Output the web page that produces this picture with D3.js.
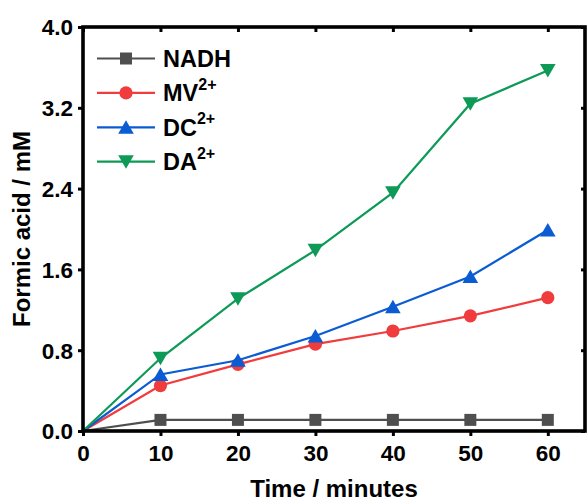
<!DOCTYPE html>
<html>
<head>
<meta charset="utf-8">
<script src="https://cdn.jsdelivr.net/npm/d3@7"></script>
<style>
  html, body { margin: 0; padding: 0; background: #fff; }
  svg { display: block; }
  text { font-family: "Liberation Sans", Arial, sans-serif; font-weight: bold; fill: #000; }
</style>
</head>
<body>
<svg id="chart" width="587" height="502"></svg>
<script>
// Sampling times (minutes)
const times = [0, 10, 20, 30, 40, 50, 60];

// Formic acid concentration (mM) for each mediator
const nadh = [0, 0.11, 0.11, 0.11, 0.11, 0.11, 0.11];
const mv   = [0, 0.45, 0.66, 0.86, 0.99, 1.14, 1.32];
const dc   = [0, 0.56, 0.70, 0.94, 1.23, 1.53, 1.99];
const da   = [0, 0.72, 1.31, 1.79, 2.36, 3.24, 3.57];

// Series names (base + superscript) and tick values
const seriesNames = [["NADH", ""], ["MV", "2+"], ["DC", "2+"], ["DA", "2+"]];
const xTicks = [0, 10, 20, 30, 40, 50, 60];
const yTicks = [0, 0.8, 1.6, 2.4, 3.2, 4.0];

const colors  = ["#4f4f4f", "#f03c3c", "#0b5bd3", "#0d9a57"];
const symbols = ["square", "circle", "triUp", "triDown"];
const values  = [nadh, mv, dc, da];

const svg = d3.select("#chart");
const plotL = 83, plotR = 585, plotT = 27, plotB = 431;

const x = d3.scaleLinear().domain([0, 64.8]).range([plotL, plotR]);
const y = d3.scaleLinear().domain([0, 4.0]).range([plotB, plotT]);

// Marker path generator, each shape centred on its bounding box
function markerPath(kind) {
  if (kind === "square") return "M-6,-6H6V6H-6Z";
  if (kind === "circle") return d3.symbol(d3.symbolCircle, Math.PI * 6.6 * 6.6)();
  if (kind === "triUp") return "M0,-7L7.8,6.5H-7.8Z";
  return "M0,7L7.8,-6.5H-7.8Z";
}

// Series lines and markers
const line = d3.line().x((d, i) => x(times[i])).y(d => y(d));
values.forEach((vals, s) => {
  const g = svg.append("g");
  g.append("path")
    .attr("d", line(vals))
    .attr("fill", "none")
    .attr("stroke", colors[s])
    .attr("stroke-width", 2.2);
  g.selectAll("path.mk")
    .data(vals.slice(1))
    .join("path")
    .attr("class", "mk")
    .attr("d", markerPath(symbols[s]))
    .attr("transform", (d, i) => `translate(${x(times[i + 1])},${y(d)})`)
    .attr("fill", colors[s]);
});

// Frame with axes
const axisW = 3.6;
const bottomAxis = svg.append("g").attr("transform", `translate(0,${plotB})`)
  .call(d3.axisBottom(x).tickValues(xTicks).tickSize(5).tickPadding(8).tickFormat(d3.format("d")));
const leftAxis = svg.append("g").attr("transform", `translate(${plotL},0)`)
  .call(d3.axisLeft(y).tickValues(yTicks).tickSize(5).tickPadding(5).tickFormat(d3.format(".1f")));
const topAxis = svg.append("g").attr("transform", `translate(0,${plotT})`)
  .call(d3.axisBottom(x).tickValues(xTicks).tickSize(5).tickFormat(""));
const rightAxis = svg.append("g").attr("transform", `translate(${plotR},0)`)
  .call(d3.axisLeft(y).tickValues(yTicks).tickSize(4).tickFormat(""));

[bottomAxis, leftAxis, topAxis, rightAxis].forEach(a => {
  a.select(".domain").remove();
  a.selectAll(".tick line").attr("stroke", "#000").attr("stroke-width", 3);
  a.selectAll("text").attr("font-size", 22.5)
    .attr("font-family", "'Liberation Sans', Arial, sans-serif")
    .attr("font-weight", "bold").attr("fill", "#000");
});
bottomAxis.selectAll("text").attr("dy", "0.75em");
leftAxis.selectAll("text").attr("dy", "0.35em");

svg.append("rect")
  .attr("x", plotL).attr("y", plotT)
  .attr("width", plotR - plotL).attr("height", plotB - plotT)
  .attr("fill", "none").attr("stroke", "#000").attr("stroke-width", axisW);

// Axis titles
svg.append("text")
  .attr("x", (plotL + plotR) / 2).attr("y", 497)
  .attr("text-anchor", "middle").attr("font-size", 24)
  .text("Time / minutes");
svg.append("text")
  .attr("transform", `translate(30,${(plotT + plotB) / 2}) rotate(-90)`)
  .attr("text-anchor", "middle").attr("font-size", 24)
  .text("Formic acid / mM");

// Legend
const legend = svg.append("g");
seriesNames.forEach((nm, s) => {
  const ly = 58.5 + s * 34.4;
  legend.append("line")
    .attr("x1", 97).attr("x2", 155).attr("y1", ly).attr("y2", ly)
    .attr("stroke", colors[s]).attr("stroke-width", 2.2);
  legend.append("path")
    .attr("d", markerPath(symbols[s]))
    .attr("transform", `translate(126,${ly})`)
    .attr("fill", colors[s]);
  const t = legend.append("text")
    .attr("x", 163).attr("y", ly).attr("dy", "0.36em")
    .attr("font-size", 23.5);
  t.append("tspan").text(nm[0]);
  if (nm[1]) {
    t.append("tspan").attr("font-size", 16).attr("dy", "-0.72em").text(nm[1]);
  }
});
</script>
</body>
</html>
